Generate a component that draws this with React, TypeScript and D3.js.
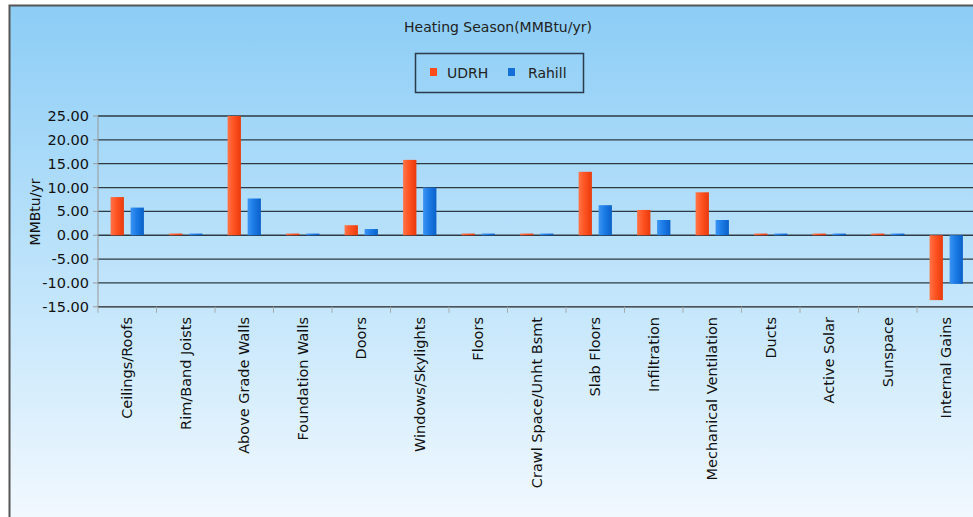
import React from "react";
import * as d3 from "d3";

const categories = [
  "Ceilings/Roofs",
  "Rim/Band  Joists",
  "Above Grade Walls",
  "Foundation Walls",
  "Doors",
  "Windows/Skylights",
  "Floors",
  "Crawl Space/Unht Bsmt",
  "Slab Floors",
  "Infiltration",
  "Mechanical Ventilation",
  "Ducts",
  "Active Solar",
  "Sunspace",
  "Internal Gains",
];
const udrh = [8.0, 0.35, 25.0, 0.35, 2.1, 15.8, 0.35, 0.35, 13.3, 5.3, 9.0, 0.35, 0.35, 0.35, -13.6];
const rahill = [5.8, 0.35, 7.7, 0.35, 1.3, 10.0, 0.35, 0.35, 6.3, 3.2, 3.2, 0.35, 0.35, 0.35, -10.2];
const yTicks = [25, 20, 15, 10, 5, 0, -5, -10, -15];
const seriesNames = ["UDRH", "Rahill"];

const W = 973;
const H = 517;
const FONT = "'DejaVu Sans', Verdana, sans-serif";

export default function App() {
  const left = 98;
  const step = 58.5;
  const x = d3
    .scaleBand<string>()
    .domain(categories)
    .range([left, left + step * categories.length])
    .paddingInner(0)
    .paddingOuter(0);
  const y = d3.scaleLinear().domain([-15, 25]).range([306.8, 116]);
  const barW = 13.3;
  const offset = 10;
  const plotRight = left + step * categories.length;
  const fmt = (t: number) => d3.format(".2f")(t).replace("\u2212", "-");

  return (
    <svg
      width={W}
      height={H}
      style={{ position: "absolute", left: 0, top: 0, display: "block" }}
    >
      <defs>
        <linearGradient id="bg" x1="0" y1="0" x2="0" y2="1">
          <stop offset="0%" stopColor="#8ccdf6" />
          <stop offset="55%" stopColor="#c4e6fb" />
          <stop offset="100%" stopColor="#f8fbff" />
        </linearGradient>
        <linearGradient id="gRed" x1="0" y1="0" x2="1" y2="0">
          <stop offset="0%" stopColor="#ff7448" />
          <stop offset="45%" stopColor="#ff5322" />
          <stop offset="100%" stopColor="#e83a0c" />
        </linearGradient>
        <linearGradient id="gBlue" x1="0" y1="0" x2="1" y2="0">
          <stop offset="0%" stopColor="#3b94f2" />
          <stop offset="45%" stopColor="#1b7be6" />
          <stop offset="100%" stopColor="#0b60c8" />
        </linearGradient>
      </defs>
      <rect x={0} y={0} width={W} height={H} fill="#ffffff" />
      <rect x={9.5} y={5.5} width={990} height={540} fill="url(#bg)" stroke="#555" strokeWidth={2} />

      <text x={498} y={32} textAnchor="middle" fontFamily={FONT} fontSize={14} fill="#222">
        Heating Season(MMBtu/yr)
      </text>

      {/* legend */}
      <rect x={415.5} y={53.5} width={168} height={39} fill="none" stroke="#2a3b4c" strokeWidth={1.5} />
      {seriesNames.map((s, i) => (
        <g key={s}>
          <rect x={430 + i * 78} y={68} width={7} height={8} fill={i === 0 ? "#ff4a1a" : "#1470d8"} />
          <text x={447 + i * 81} y={77.5} fontFamily={FONT} fontSize={14} fill="#222">
            {s}
          </text>
        </g>
      ))}

      {/* gridlines */}
      {yTicks.map((t) => (
        <line
          key={t}
          x1={left}
          x2={plotRight}
          y1={y(t)}
          y2={y(t)}
          stroke={t === -15 ? "#222" : "#2d3a44"}
          strokeWidth={1.3}
        />
      ))}

      {/* y axis */}
      <line x1={left} x2={left} y1={y(25)} y2={y(-15)} stroke="#999" strokeWidth={1} />
      {yTicks.map((t) => (
        <g key={"t" + t}>
          <line x1={left - 5} x2={left} y1={y(t)} y2={y(t)} stroke="#999" />
          <text
            x={left - 9}
            y={y(t) + 5}
            textAnchor="end"
            fontFamily={FONT}
            fontSize={14.5}
            fill="#111"
          >
            {fmt(t)}
          </text>
        </g>
      ))}
      <text
        transform={`translate(40,${212}) rotate(-90)`}
        textAnchor="middle"
        fontFamily={FONT}
        fontSize={14}
        fill="#111"
      >
        MMBtu/yr
      </text>

      {/* bars */}
      {categories.map((c, i) => {
        const cx = (x(c) as number) + x.bandwidth() / 2;
        const vals = [udrh[i], rahill[i]];
        return (
          <g key={c}>
            {vals.map((v, j) => {
              const bx = cx + (j === 0 ? -offset : offset) - barW / 2;
              const y0 = y(0);
              const y1 = y(v);
              return (
                <rect
                  key={j}
                  x={bx}
                  y={Math.min(y0, y1)}
                  width={barW}
                  height={Math.max(1.5, Math.abs(y1 - y0))}
                  fill={j === 0 ? "url(#gRed)" : "url(#gBlue)"}
                />
              );
            })}
          </g>
        );
      })}

      {/* x ticks and labels */}
      {categories.map((c, i) => {
        const x0 = x(c) as number;
        const cx = x0 + x.bandwidth() / 2;
        return (
          <g key={"x" + c}>
            <line x1={x0} x2={x0} y1={y(-15)} y2={y(-15) + 6} stroke="#aaa" />
            <text
              transform={`translate(${cx + 5},${317}) rotate(-90)`}
              textAnchor="end"
              fontFamily={FONT}
              fontSize={14.5}
              fill="#111"
            >
              {c}
            </text>
          </g>
        );
      })}
    </svg>
  );
}
